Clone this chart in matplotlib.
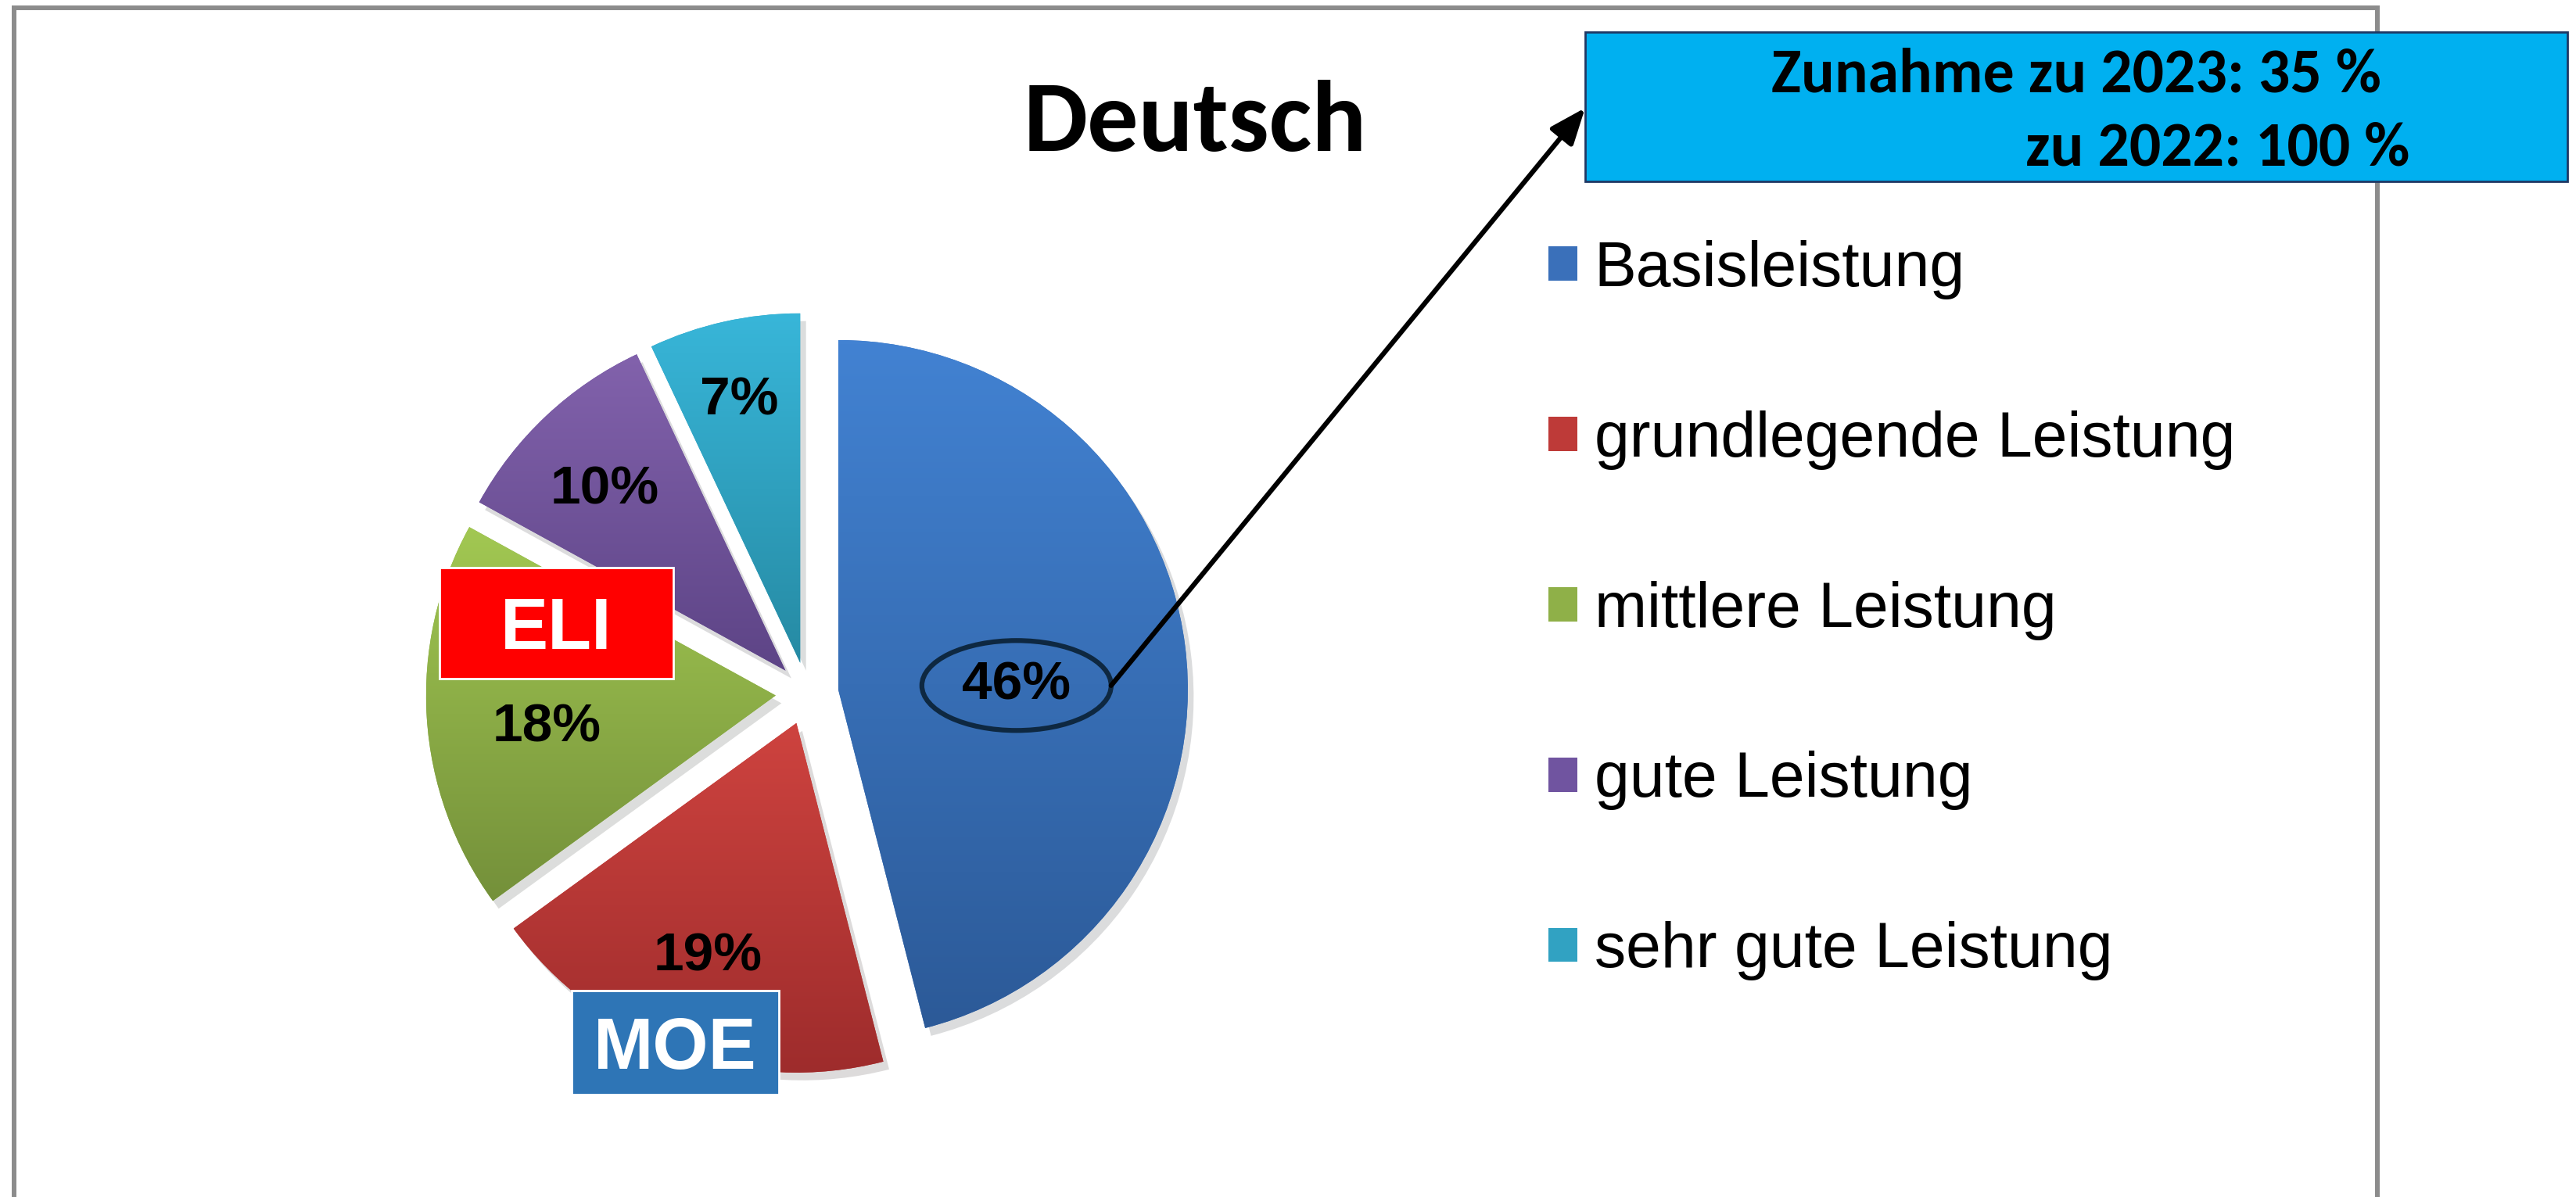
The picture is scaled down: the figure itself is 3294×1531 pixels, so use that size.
import matplotlib
matplotlib.use("Agg")
import matplotlib.pyplot as plt
import numpy as np
from matplotlib import font_manager
from matplotlib.colors import LinearSegmentedColormap
from matplotlib.patches import Ellipse, Rectangle
from matplotlib.lines import Line2D

W, H = 3294, 1531

title = "Deutsch"
categories = ["Basisleistung", "grundlegende Leistung", "mittlere Leistung",
              "gute Leistung", "sehr gute Leistung"]
shares = [46, 19, 18, 10, 7]
top_colors = ["#4282D2", "#CE433F", "#A2C852", "#8262AC", "#38B6D9"]
bottom_colors = ["#2C5A98", "#9E2C2C", "#74903A", "#5D4486", "#268AA3"]
mid_colors = ["#3A70BA", "#BE3A38", "#8FB048", "#7054A0", "#31A2C2"]
note_lines = ["Zunahme zu 2023: 35 %", "zu 2022: 100 %"]
tags = ["ELI", "MOE"]
tag_colors = ["#FF0000", "#2E75B6"]

# label placement (fraction of radius, angle tweak in degrees)
label_dist = [0.51, 0.715, 0.66, 0.73, 0.77]
label_shift = [-5.9, -0.9, 4.3, 1.8, 0.5]


def pick(names):
    for n in names:
        try:
            font_manager.findfont(n, fallback_to_default=False)
            return n
        except ValueError:
            pass
    return "DejaVu Sans"


narrow = pick(["Carlito", "Lato", "Open Sans"])
arial = pick(["Liberation Sans", "DejaVu Sans"])


def px(x, y):
    # pixel position measured from the top-left -> figure fraction
    return x / W, 1 - y / H


fig = plt.figure(figsize=(W / 100, H / 100), dpi=100)
fig.patch.set_facecolor("white")


def fit(t, width_px):
    # scale a text so that it spans the given pixel width
    r = fig.canvas.get_renderer()
    w = t.get_window_extent(r).width
    t.set_fontsize(t.get_fontsize() * width_px / w)


# pie axes: centre and radius in pixels
R = 447
cx, cy = 1032, 887
span = 1.15
side = 2 * span * R
ax = fig.add_axes([(cx - side / 2) / W, (H - cy - side / 2) / H, side / W, side / H])

wedges, texts, autotexts = ax.pie(
    shares, startangle=90, counterclock=False, explode=[0.09] * len(shares),
    colors=mid_colors, autopct=lambda p: f"{p:.0f}%",
    shadow={"ox": 0.012, "oy": -0.016, "shade": 0.9, "alpha": 0.14},
    wedgeprops=dict(linewidth=0),
    textprops=dict(fontsize=50, fontweight="bold", family=arial, color="black"))

# vertical gradient inside every slice
grad = np.linspace(0, 1, 256).reshape(-1, 1)
for w, c0, c1 in zip(wedges, top_colors, bottom_colors):
    x0, y0, x1, y1 = w.get_path().get_extents().extents
    cmap = LinearSegmentedColormap.from_list("", [c1, c0])
    im = ax.imshow(grad, cmap=cmap, origin="lower", extent=(x0, x1, y0, y1),
                   aspect="auto", zorder=1.5, interpolation="bilinear")
    im.set_clip_path(w)

for w, t, d, s in zip(wedges, autotexts, label_dist, label_shift):
    a = np.deg2rad((w.theta1 + w.theta2) / 2 + s)
    t.set_position((w.center[0] + d * w.r * np.cos(a), w.center[1] + d * w.r * np.sin(a)))
    t.set_zorder(5)

ax.set_xlim(-span, span)
ax.set_ylim(-span, span)
ax.set_aspect("auto")
ax.axis("off")

# ellipse round the largest share and arrow to the note
ex, ey = autotexts[0].get_position()
ax.add_patch(Ellipse((ex, ey), 242 / R, 115 / R, fill=False, ec="#0E2841", lw=4.5, zorder=6))
ax.annotate("", xy=px(2027, 138), xycoords="figure fraction",
            xytext=(ex + 121 / R, ey), textcoords="data",
            arrowprops=dict(arrowstyle="-|>,head_length=0.7,head_width=0.28", lw=4.5,
                            color="black", mutation_scale=40, shrinkA=0, shrinkB=0),
            annotation_clip=False, zorder=7)

# frame
fr = dict(color="#8C8C8C", lw=4.3, transform=fig.transFigure, zorder=1.5)
fig.add_artist(Line2D([18 / W, 18 / W], [1 - 10 / H, 0], **fr))
fig.add_artist(Line2D([18 / W, 3040 / W], [1 - 10 / H, 1 - 10 / H], **fr))
fig.add_artist(Line2D([3040 / W, 3040 / W], [1 - 10 / H, 0], **fr))

# title
t_title = fig.text(*px(1528, 193), title, ha="center", va="baseline", fontsize=90,
                   family=narrow, fontweight="bold")
fit(t_title, 439)

# note box
fig.add_artist(Rectangle(px(2027, 232), (3283 - 2027) / W, (232 - 41) / H,
                         transform=fig.transFigure, fc="#00B0F0", ec="#1F3864",
                         lw=2, zorder=2))
n1 = fig.text(*px(2655, 117), note_lines[0], ha="center", va="baseline", fontsize=58,
              family=narrow, fontweight="bold", zorder=3)
n2 = fig.text(*px(2836, 212), note_lines[1], ha="center", va="baseline", fontsize=58,
              family=narrow, fontweight="bold", zorder=3)
fit(n1, 780)
n2.set_fontsize(n1.get_fontsize())

# tag boxes
tag_boxes = [(562, 726, 861, 868), (731, 1267, 996, 1400)]
for name, col, (l, t, r, b) in zip(tags, tag_colors, tag_boxes):
    fig.add_artist(Rectangle(px(l, b), (r - l) / W, (b - t) / H, transform=fig.transFigure,
                             fc=col, ec="white", lw=2, zorder=2))
    fig.text(*px((l + r) / 2, (t + b) / 2), name, ha="center", va="center_baseline",
             fontsize=66, family=arial, fontweight="bold", color="white", zorder=3)

fig.legend(wedges, categories, loc="upper left", bbox_to_anchor=px(1980, 307),
           frameon=False, prop=dict(family=arial, size=58),
           handlelength=0.46, handleheight=0.46, handletextpad=0.27,
           labelspacing=1.76, borderpad=0, borderaxespad=0)

fig.savefig("out.png", dpi=100)
